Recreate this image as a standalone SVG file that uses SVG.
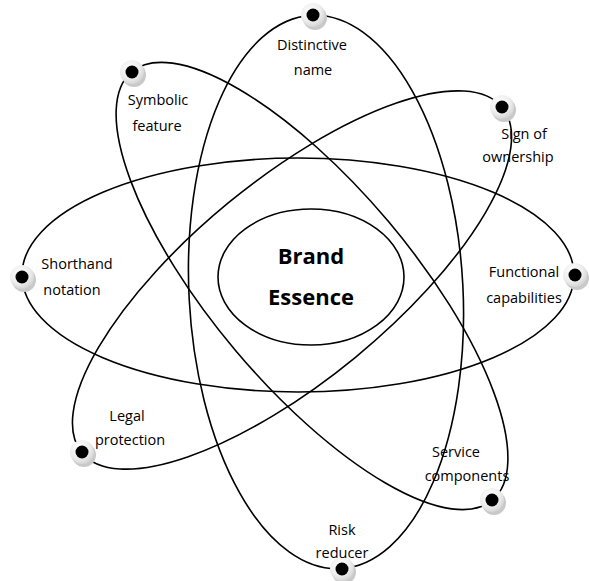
<svg xmlns="http://www.w3.org/2000/svg" width="589" height="581" viewBox="0 0 589 581">
<defs>
<style>
.orb{fill:none;stroke:#000;stroke-width:1.6}
.lbl{font-family:"Open Sans","Liberation Sans",Arial,sans-serif;font-size:14.5px;fill:#000;text-anchor:middle}
.big{font-family:"Open Sans","Liberation Sans",Arial,sans-serif;font-size:22px;font-weight:bold;fill:#000;text-anchor:middle}
</style>
<radialGradient id="disk" cx="0.4" cy="0.35" r="0.7">
<stop offset="0" stop-color="#ffffff"/>
<stop offset="0.6" stop-color="#eeeeee"/>
<stop offset="1" stop-color="#d0d0d0"/>
</radialGradient>
<g id="dot">
<circle cx="2" cy="3" r="12" fill="#c9c9c9"/>
<circle cx="0" cy="0" r="12" fill="url(#disk)"/>
<circle cx="0" cy="0" r="6.5" fill="#000"/>
</g>
</defs>
<rect width="589" height="581" fill="#fff"/>
<g id="connectors">
<ellipse class="orb" cx="326" cy="292" rx="137" ry="277" transform="rotate(-3 326 292)"/>
<ellipse class="orb" cx="298" cy="275" rx="276" ry="117"/>
<ellipse class="orb" cx="312" cy="286" rx="280" ry="100" transform="rotate(49.9 312 286)"/>
<ellipse class="orb" cx="292" cy="280" rx="272" ry="100" transform="rotate(-39.4 292 280)"/>
</g>
<g id="brand-essence">
<ellipse class="orb" cx="311" cy="277" rx="93" ry="68" fill="#fff"/>
<text class="big" x="311" y="264">Brand</text>
<text class="big" x="311" y="305">Essence</text>
</g>
<g id="distinctive-name">
<use href="#dot" x="313" y="15"/>
<text class="lbl" x="312" y="50">Distinctive</text>
<text class="lbl" x="313" y="75">name</text>
</g>
<g id="symbolic-feature">
<use href="#dot" x="132" y="72"/>
<text class="lbl" x="158" y="105">Symbolic</text>
<text class="lbl" x="157" y="131">feature</text>
</g>
<g id="sign-of-ownership">
<use href="#dot" x="502" y="107"/>
<text class="lbl" x="524" y="139">Sign of</text>
<text class="lbl" x="518" y="162">ownership</text>
</g>
<g id="shorthand-notation">
<use href="#dot" x="22" y="277"/>
<text class="lbl" x="77" y="269">Shorthand</text>
<text class="lbl" x="72" y="295">notation</text>
</g>
<g id="functional-capabilities">
<use href="#dot" x="575" y="275"/>
<text class="lbl" x="524" y="277">Functional</text>
<text class="lbl" x="524" y="303">capabilities</text>
</g>
<g id="legal-protection">
<use href="#dot" x="82" y="452"/>
<text class="lbl" x="127" y="421">Legal</text>
<text class="lbl" x="130" y="445">protection</text>
</g>
<g id="service-components">
<use href="#dot" x="492" y="500"/>
<text class="lbl" x="456" y="457">Service</text>
<text class="lbl" x="467" y="481">components</text>
</g>
<g id="risk-reducer">
<use href="#dot" x="342" y="569"/>
<text class="lbl" x="342" y="535">Risk</text>
<text class="lbl" x="342" y="558">reducer</text>
</g>
</svg>
